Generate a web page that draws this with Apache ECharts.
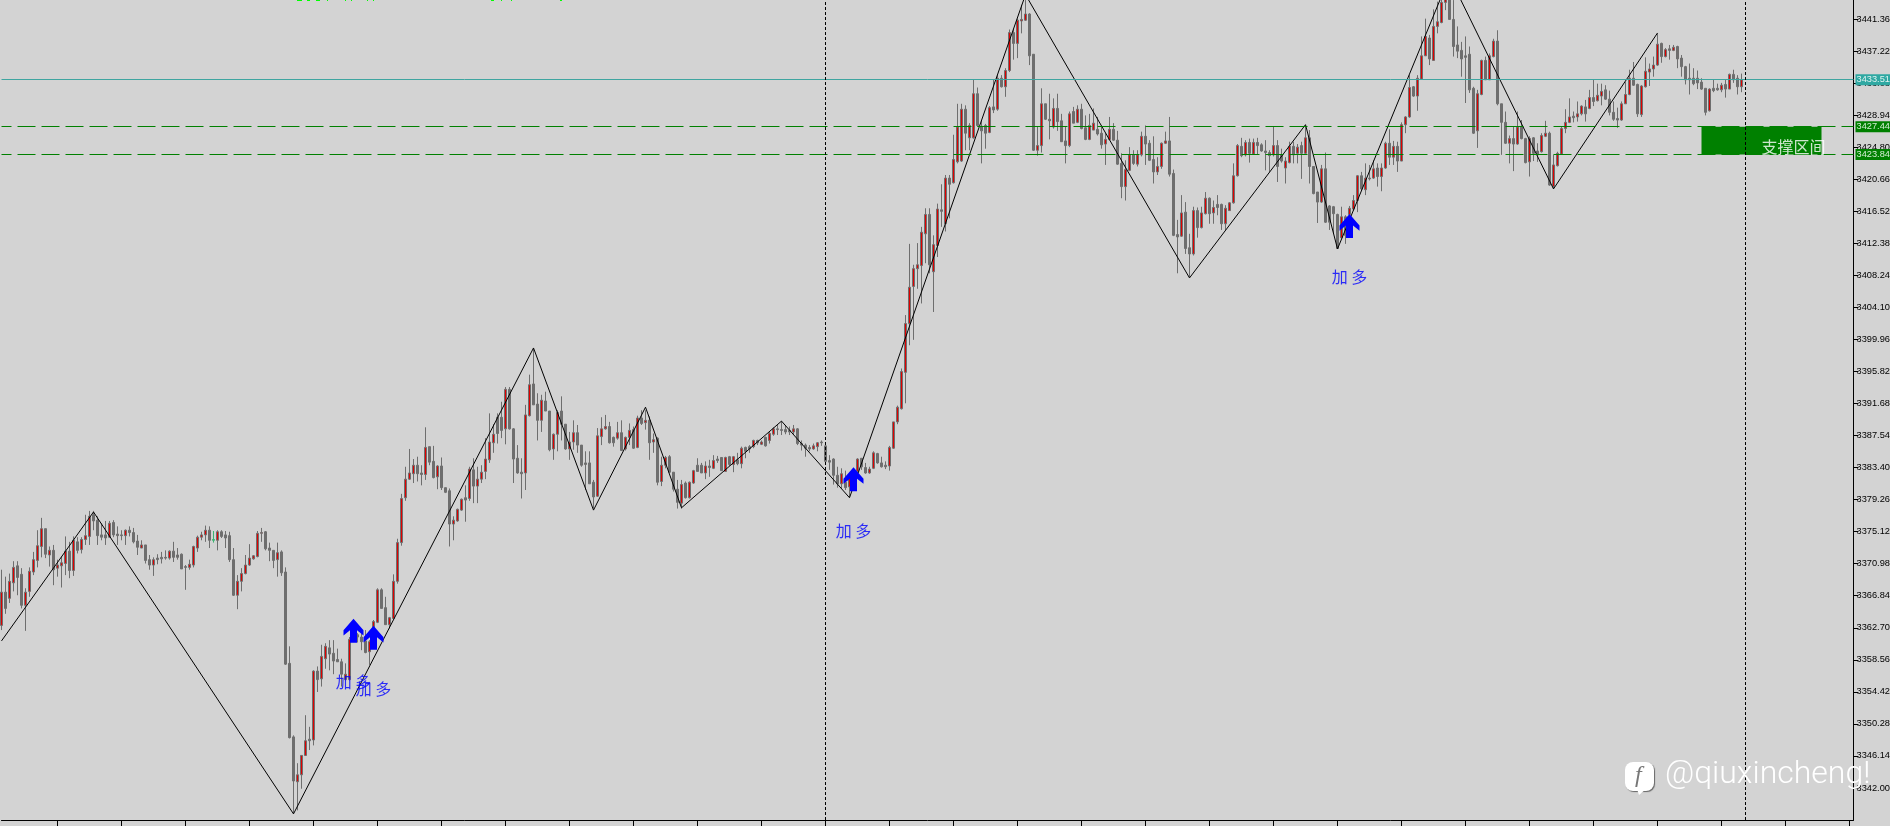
<!DOCTYPE html>
<html><head><meta charset="utf-8">
<style>html,body{margin:0;padding:0;background:#d3d3d3;overflow:hidden}#c{width:1890px;height:826px}</style>
<script src="https://cdn.jsdelivr.net/npm/echarts@6/dist/echarts.min.js"></script>
</head><body><div id="c"></div>
<script>
const opens=[3363.0,3367.3,3366.5,3368.5,3370.7,3369.6,3365.6,3367.4,3369.9,3371.4,3373.2,3375.5,3372.1,3372.7,3370.4,3370.7,3371.0,3372.6,3370.1,3373.8,3372.8,3374.1,3374.5,3377.3,3376.6,3374.7,3374.7,3374.4,3376.3,3374.8,3374.7,3374.6,3375.3,3375.0,3373.9,3373.0,3373.4,3371.5,3370.8,3371.7,3371.8,3371.8,3371.7,3372.6,3372.1,3372.2,3370.6,3370.5,3370.8,3373.0,3374.4,3374.7,3375.3,3374.1,3374.0,3375.1,3374.7,3374.6,3371.5,3366.9,3368.7,3369.7,3370.8,3371.6,3371.9,3374.9,3375.1,3373.0,3372.7,3371.5,3372.5,3369.9,3358.1,3348.6,3342.8,3343.7,3346.2,3348.3,3348.2,3357.1,3356.1,3358.7,3360.1,3359.4,3358.6,3358.3,3356.0,3356.0,3361.8,3361.8,3361.5,3361.0,3359.6,3360.9,3363.4,3367.6,3365.3,3363.1,3363.9,3368.7,
3373.7,3379.5,3381.9,3382.6,3383.7,3382.7,3382.5,3386.1,3384.2,3382.2,3383.6,3380.8,3380.4,3376.1,3376.5,3377.9,3379.5,3379.4,3383.1,3381.0,3381.9,3382.9,3384.4,3386.6,3389.9,3389.9,3388.4,3393.5,3388.4,3384.6,3382.8,3382.7,3390.1,3394.2,3391.6,3389.5,3392.0,3390.7,3385.8,3387.7,3390.7,3389.0,3385.8,3386.7,3387.9,3386.3,3384.0,3384.0,3381.5,3379.7,3387.4,3388.4,3388.7,3387.3,3387.2,3387.9,3385.8,3387.3,3388.3,3386.0,3389.8,3389.2,3389.5,3386.7,3387.2,3381.6,3383.7,3384.8,3382.8,3380.6,3378.8,3381.4,3379.5,3381.4,3383.7,3383.7,3382.7,3383.6,3383.3,3384.5,3384.7,3382.9,3384.8,3383.8,3384.4,3383.9,3386.0,3386.1,3386.1,3386.9,3386.4,3387.3,3386.9,3387.7,3388.4,3388.3,3388.3,3388.2,3388.0,3388.4,
3386.5,3386.3,3386.0,3385.8,3386.1,3386.7,3386.2,3384.3,3384.5,3382.4,3381.3,3381.5,3380.9,3382.2,3382.9,3384.6,3383.4,3382.7,3383.3,3385.2,3384.0,3383.7,3383.6,3385.9,3389.3,3391.0,3395.7,3402.0,3406.8,3409.1,3409.5,3413.6,3416.1,3408.7,3412.1,3416.7,3414.9,3420.8,3420.2,3422.9,3423.0,3429.7,3426.0,3426.0,3431.7,3427.5,3427.6,3426.7,3430.0,3429.7,3433.7,3432.6,3434.7,3439.6,3438.2,3441.1,3441.2,3442.0,3436.8,3424.4,3425.0,3430.4,3428.4,3427.4,3429.8,3428.2,3425.6,3425.0,3429.4,3428.0,3429.7,3427.3,3425.8,3427.0,3427.1,3426.6,3425.2,3425.8,3427.1,3425.7,3422.7,3419.7,3421.8,3423.8,3422.6,3423.8,3426.2,3425.3,3423.2,3421.6,3422.3,3425.3,3425.6,3421.4,3413.5,3413.3,3416.4,3411.8,3411.0,3416.6,
3414.4,3416.2,3418.2,3416.3,3417.4,3417.4,3414.9,3416.6,3417.6,3421.1,3424.9,3423.8,3425.4,3423.9,3425.4,3425.1,3424.3,3424.1,3423.8,3425.0,3423.8,3422.1,3422.8,3424.9,3424.0,3425.0,3424.0,3426.0,3422.3,3419.0,3417.7,3422.0,3417.2,3417.1,3416.1,3413.1,3415.8,3416.1,3416.8,3417.9,3421.1,3419.3,3420.8,3420.8,3422.1,3421.0,3422.1,3425.3,3423.5,3424.9,3423.0,3427.7,3428.7,3432.6,3431.4,3433.6,3436.6,3438.9,3436.0,3440.4,3440.9,3443.5,3444.0,3441.3,3438.0,3437.3,3436.6,3436.8,3432.4,3426.9,3431.6,3436.0,3433.5,3436.5,3438.5,3430.4,3428.0,3425.3,3425.9,3425.2,3427.4,3425.9,3422.9,3426.0,3424.3,3424.2,3426.2,3426.6,3419.7,3422.4,3423.9,3427.2,3428.0,3428.8,3428.7,3429.1,3430.0,3429.8,3431.2,3430.8,
3431.4,3432.2,3431.0,3429.3,3428.5,3428.3,3430.4,3431.6,3433.7,3432.9,3429.0,3432.6,3434.5,3434.9,3435.4,3438.2,3436.5,3437.5,3437.3,3437.8,3436.3,3435.2,3433.7,3433.7,3433.7,3433.2,3432.4,3429.5,3432.4,3432.4,3432.2,3432.9,3432.3,3434.2,3433.7,3432.6];
const highs=[3370.2,3369.3,3369.7,3371.3,3371.3,3370.4,3367.8,3370.5,3372.5,3375.3,3376.9,3375.5,3373.2,3373.4,3371.5,3371.9,3374.5,3373.8,3374.5,3374.4,3374.4,3377.3,3377.8,3377.8,3377.1,3376.2,3376.5,3376.5,3376.6,3375.8,3375.3,3375.4,3375.8,3375.6,3374.7,3374.0,3373.4,3372.1,3371.8,3372.2,3372.5,3372.7,3372.7,3373.8,3373.0,3372.3,3370.8,3371.5,3373.3,3374.6,3375.1,3375.9,3375.8,3375.2,3375.3,3375.3,3375.2,3375.1,3373.0,3369.5,3370.4,3372.1,3373.5,3372.1,3375.2,3375.6,3375.2,3373.7,3372.7,3373.7,3372.7,3370.5,3360.3,3348.8,3345.2,3346.2,3351.4,3349.9,3357.2,3357.7,3360.5,3360.7,3361.1,3361.1,3360.0,3358.7,3358.1,3361.5,3363.3,3362.0,3362.0,3362.4,3361.1,3363.7,3367.8,3367.8,3366.7,3364.1,3369.6,3374.2,
3380.0,3383.5,3385.8,3384.5,3384.8,3383.7,3388.6,3386.1,3386.2,3383.7,3384.7,3380.8,3380.7,3377.1,3378.1,3379.4,3381.1,3383.5,3384.6,3383.5,3383.7,3387.2,3390.4,3389.0,3390.4,3391.9,3393.8,3393.8,3388.5,3386.3,3384.6,3391.5,3395.4,3398.8,3393.0,3392.8,3393.2,3390.7,3387.8,3390.8,3392.6,3389.0,3388.0,3389.5,3388.9,3386.3,3385.5,3385.5,3381.8,3388.5,3389.9,3390.2,3389.3,3387.4,3389.3,3389.5,3387.4,3389.1,3388.7,3390.1,3390.8,3390.8,3390.0,3387.8,3387.3,3384.8,3384.9,3385.0,3382.8,3381.8,3381.8,3381.6,3381.6,3383.1,3384.6,3384.0,3384.2,3384.4,3385.0,3384.9,3384.7,3384.8,3384.9,3384.9,3385.3,3386.1,3386.1,3386.3,3387.0,3387.0,3386.9,3387.4,3388.0,3388.6,3388.9,3389.4,3388.9,3388.7,3388.9,3388.5,
3386.9,3386.5,3386.3,3386.5,3386.7,3386.9,3386.7,3385.0,3384.6,3383.5,3383.3,3383.0,3382.4,3383.3,3384.6,3384.6,3384.0,3383.5,3385.5,3385.3,3384.8,3384.2,3386.2,3389.3,3391.4,3396.2,3403.1,3412.3,3409.6,3412.4,3414.5,3416.9,3416.9,3413.4,3417.5,3420.0,3421.2,3421.2,3426.4,3430.4,3430.4,3430.2,3427.9,3433.5,3432.5,3428.3,3427.8,3430.1,3433.5,3434.1,3434.1,3435.0,3440.0,3440.1,3441.4,3443.2,3443.8,3442.1,3436.8,3427.4,3432.4,3430.4,3431.7,3431.1,3431.7,3429.1,3427.4,3429.4,3430.0,3430.2,3430.4,3428.9,3429.1,3429.8,3428.7,3427.6,3426.6,3428.7,3427.9,3426.9,3424.0,3423.1,3424.8,3424.4,3424.4,3426.8,3427.6,3425.7,3426.2,3423.5,3425.4,3426.8,3428.7,3421.9,3415.4,3418.6,3417.7,3413.6,3417.1,3417.0,
3417.1,3419.0,3418.3,3417.9,3418.6,3417.5,3417.3,3417.7,3422.7,3425.2,3426.0,3425.7,3425.9,3425.9,3426.0,3425.3,3425.7,3424.4,3427.4,3425.7,3424.6,3423.5,3425.5,3425.5,3425.2,3425.5,3427.5,3427.0,3422.3,3419.0,3422.5,3424.1,3417.3,3417.2,3416.2,3417.1,3416.0,3417.2,3418.6,3421.2,3421.6,3422.7,3422.5,3423.1,3422.7,3422.7,3425.5,3427.1,3425.6,3425.5,3428.0,3428.8,3434.1,3432.7,3434.1,3439.1,3441.4,3439.3,3442.6,3443.6,3444.5,3444.8,3444.8,3443.8,3440.4,3438.4,3439.1,3437.8,3432.6,3432.2,3436.1,3436.5,3436.9,3438.8,3439.9,3430.4,3429.4,3426.3,3427.4,3429.4,3428.3,3426.0,3426.2,3426.1,3425.3,3426.6,3428.2,3426.8,3423.8,3424.2,3427.4,3429.7,3431.1,3429.4,3430.7,3430.2,3430.9,3432.2,3433.5,3433.0,
3433.0,3432.8,3432.1,3430.7,3429.9,3430.7,3433.2,3434.8,3435.8,3433.0,3432.8,3436.4,3435.6,3436.5,3439.5,3438.3,3437.6,3438.0,3438.0,3437.9,3436.7,3435.3,3435.6,3435.0,3434.7,3433.7,3432.4,3432.4,3433.5,3433.0,3433.1,3433.5,3434.3,3434.8,3434.1,3434.3];
const lows=[3362.4,3364.5,3365.9,3367.4,3366.9,3365.2,3362.3,3366.7,3369.5,3370.5,3371.8,3371.7,3370.6,3368.2,3369.3,3367.9,3369.5,3369.1,3369.4,3372.3,3372.3,3373.4,3373.4,3375.3,3373.4,3374.0,3373.4,3374.3,3374.4,3373.4,3374.0,3373.4,3374.5,3373.6,3372.1,3373.0,3371.0,3370.2,3369.4,3370.9,3371.0,3371.5,3371.5,3371.2,3371.5,3370.3,3367.6,3370.2,3370.5,3372.5,3374.0,3373.8,3373.0,3373.7,3372.7,3374.3,3373.0,3371.2,3366.8,3365.1,3367.4,3369.6,3370.7,3371.5,3371.8,3373.8,3372.7,3371.3,3370.4,3369.3,3369.4,3357.9,3348.4,3338.7,3339.1,3341.9,3346.2,3346.9,3347.5,3354.4,3355.1,3357.4,3357.2,3356.7,3358.3,3355.1,3355.9,3355.9,3361.3,3360.8,3359.8,3359.4,3357.9,3360.7,3363.3,3365.2,3363.1,3362.6,3363.9,3368.4,
3373.3,3379.1,3381.8,3381.4,3381.6,3381.1,3381.8,3383.7,3382.0,3380.6,3380.5,3380.1,3373.2,3374.0,3376.4,3377.8,3376.4,3379.1,3378.8,3378.8,3381.4,3381.9,3384.0,3385.3,3386.5,3387.2,3386.4,3388.3,3381.4,3382.6,3379.4,3380.5,3390.0,3391.5,3386.9,3388.0,3390.7,3385.5,3384.4,3385.5,3386.9,3385.7,3384.4,3385.7,3385.3,3383.5,3380.5,3381.3,3378.1,3379.6,3386.3,3388.3,3386.5,3386.1,3387.0,3385.6,3385.6,3386.3,3385.8,3385.9,3388.9,3388.3,3384.4,3385.3,3381.1,3381.0,3383.3,3382.8,3380.3,3378.1,3378.1,3379.4,3379.4,3381.3,3382.9,3382.7,3381.9,3382.2,3383.2,3384.0,3383.0,3382.9,3383.6,3382.8,3383.7,3383.3,3384.6,3385.3,3385.9,3386.3,3386.3,3386.1,3386.5,3387.5,3387.6,3387.6,3387.7,3387.6,3387.6,3386.3,
3385.6,3384.8,3385.5,3385.7,3385.5,3386.2,3384.0,3383.1,3381.2,3380.8,3380.7,3380.5,3379.6,3380.5,3382.7,3383.1,3382.6,3382.6,3383.2,3383.9,3383.4,3383.2,3383.0,3385.8,3389.0,3390.9,3391.7,3399.2,3399.9,3406.5,3404.6,3409.8,3408.5,3403.5,3410.6,3414.5,3413.9,3415.6,3420.1,3422.7,3422.9,3424.4,3424.4,3425.9,3427.4,3422.7,3424.6,3426.6,3429.2,3429.5,3432.5,3431.3,3434.5,3436.1,3436.3,3439.5,3441.1,3435.4,3424.3,3423.7,3424.1,3428.3,3425.8,3427.2,3426.9,3425.5,3422.7,3424.8,3427.9,3427.9,3427.1,3425.7,3425.7,3427.0,3426.3,3424.6,3422.5,3425.7,3425.6,3422.5,3418.2,3417.9,3421.7,3422.5,3422.3,3423.6,3422.5,3423.0,3420.1,3421.2,3422.0,3425.2,3421.0,3413.3,3408.5,3413.2,3411.0,3408.0,3410.8,3413.1,
3414.3,3416.1,3414.9,3414.9,3416.0,3414.1,3414.1,3416.6,3417.5,3421.0,3423.5,3423.6,3422.8,3423.8,3423.8,3424.2,3421.8,3421.6,3423.6,3420.3,3422.8,3420.1,3422.7,3422.7,3422.7,3420.7,3423.9,3420.1,3418.7,3415.0,3417.6,3415.0,3414.1,3413.6,3411.7,3413.0,3412.3,3414.9,3416.6,3416.4,3419.2,3418.6,3420.5,3420.7,3419.7,3419.1,3422.0,3422.5,3422.5,3421.6,3423.0,3426.6,3428.6,3431.3,3429.5,3433.5,3436.6,3435.4,3436.0,3439.5,3440.8,3442.5,3441.3,3436.5,3436.3,3433.9,3430.5,3431.8,3426.5,3424.7,3431.5,3433.5,3433.5,3436.4,3430.2,3423.8,3425.2,3422.7,3421.7,3425.1,3425.8,3422.7,3421.0,3423.0,3422.9,3424.1,3426.1,3419.8,3419.4,3422.3,3423.8,3426.6,3427.9,3428.0,3428.1,3428.9,3428.1,3429.7,3430.1,3430.7,
3430.2,3430.9,3428.9,3428.2,3427.3,3428.2,3430.4,3431.5,3432.7,3428.7,3428.7,3432.5,3432.7,3433.9,3435.3,3435.7,3436.4,3436.1,3437.2,3435.0,3433.9,3432.9,3431.6,3432.8,3432.3,3432.2,3428.9,3429.4,3431.9,3432.1,3431.9,3431.2,3432.3,3433.1,3431.6,3431.9];
const closes=[3367.3,3365.2,3368.7,3370.5,3369.2,3365.6,3367.3,3370.0,3371.5,3373.3,3375.5,3372.2,3372.7,3370.2,3370.8,3371.1,3372.6,3370.1,3374.0,3372.7,3374.1,3374.6,3377.1,3376.5,3374.6,3374.4,3374.3,3376.2,3374.7,3374.6,3374.6,3375.3,3375.0,3373.8,3373.1,3373.4,3371.4,3370.8,3371.5,3371.5,3371.6,3371.7,3372.6,3371.8,3371.8,3370.3,3370.5,3370.9,3373.2,3374.4,3374.7,3375.3,3374.0,3374.0,3375.1,3374.5,3374.3,3371.5,3366.9,3368.7,3369.7,3370.8,3371.7,3372.0,3374.9,3375.0,3372.9,3372.7,3371.4,3372.4,3369.8,3358.0,3348.5,3342.9,3343.7,3346.2,3348.1,3348.1,3357.1,3356.0,3359.0,3360.3,3359.3,3358.4,3358.3,3356.7,3356.7,3361.2,3361.3,3361.5,3360.9,3359.5,3360.9,3363.5,3367.6,3365.2,3363.1,3364.0,3368.7,3373.7,
3379.4,3381.9,3382.7,3383.7,3382.6,3382.5,3386.0,3384.1,3382.1,3383.6,3380.8,3380.2,3376.1,3376.6,3378.0,3379.3,3379.2,3383.2,3381.0,3381.9,3382.8,3384.5,3386.7,3387.7,3387.8,3388.2,3393.5,3388.4,3384.5,3382.7,3382.6,3390.2,3394.1,3391.5,3389.5,3392.1,3390.7,3385.7,3387.7,3390.5,3389.0,3385.8,3386.7,3387.9,3386.3,3383.7,3383.8,3381.3,3379.6,3387.5,3388.4,3388.7,3386.6,3386.6,3387.9,3385.6,3387.3,3388.2,3385.9,3389.8,3389.1,3389.5,3386.6,3387.0,3381.5,3383.7,3384.7,3382.8,3380.6,3378.9,3381.2,3379.5,3381.5,3383.0,3382.9,3382.7,3383.6,3383.4,3384.3,3384.3,3383.0,3384.7,3383.8,3384.8,3383.9,3385.9,3385.5,3385.8,3386.9,3386.6,3386.7,3386.2,3387.8,3388.4,3388.3,3388.2,3388.0,3388.0,3388.4,3386.5,
3386.3,3385.9,3385.8,3386.2,3386.6,3386.6,3384.2,3384.1,3382.4,3381.3,3382.6,3380.8,3382.2,3383.1,3384.5,3383.5,3382.7,3383.2,3385.3,3384.0,3383.5,3383.5,3386.0,3389.3,3391.2,3395.8,3402.0,3406.7,3409.1,3409.6,3413.8,3416.1,3409.6,3412.2,3416.8,3416.5,3420.8,3420.0,3423.2,3427.4,3429.7,3426.6,3427.6,3431.7,3427.6,3426.9,3426.6,3429.9,3429.6,3433.7,3432.6,3434.7,3439.6,3438.2,3441.2,3441.3,3442.0,3436.6,3424.4,3425.0,3430.4,3428.4,3428.2,3429.8,3428.1,3425.5,3425.0,3429.1,3427.9,3429.7,3427.2,3425.8,3427.6,3427.9,3426.5,3425.1,3425.8,3427.1,3425.7,3422.6,3419.7,3421.9,3423.8,3422.7,3423.8,3426.2,3425.2,3423.1,3421.6,3422.3,3425.3,3425.6,3421.3,3413.4,3413.2,3416.3,3411.7,3411.0,3416.6,3414.4,
3416.3,3418.2,3416.2,3417.0,3417.0,3414.9,3416.9,3417.6,3421.1,3425.0,3423.7,3425.4,3424.0,3425.4,3425.0,3424.3,3424.1,3423.7,3425.0,3422.3,3423.0,3423.0,3424.9,3423.8,3424.8,3424.0,3426.0,3422.3,3418.8,3417.7,3422.0,3415.1,3415.1,3416.2,3411.7,3415.8,3413.4,3416.9,3417.9,3421.1,3419.4,3420.8,3420.7,3422.0,3421.0,3422.1,3425.3,3423.5,3424.9,3423.0,3427.7,3428.7,3432.5,3431.4,3433.7,3436.6,3439.1,3436.2,3440.4,3441.0,3443.5,3444.0,3441.3,3437.8,3437.2,3436.2,3436.4,3432.2,3426.6,3431.7,3436.0,3433.5,3436.6,3438.5,3430.4,3428.0,3425.3,3425.9,3425.2,3427.4,3425.9,3422.8,3425.9,3424.0,3423.8,3426.3,3426.6,3419.9,3422.5,3424.0,3427.2,3428.0,3428.7,3428.6,3429.1,3430.1,3429.1,3431.2,3430.7,3431.5,
3432.0,3431.0,3429.3,3428.4,3428.3,3430.4,3431.6,3433.7,3432.8,3429.1,3432.7,3434.6,3434.9,3435.4,3438.1,3436.5,3437.4,3437.3,3437.7,3436.2,3435.2,3433.5,3433.5,3433.0,3433.1,3432.3,3429.3,3432.3,3432.1,3432.2,3432.8,3432.3,3434.2,3433.5,3432.6,3433.5];
const greenCandle=53;
const pivotIndex=[0,23,73,133,148,161,170,195,212,256,297,326,334,362,388,414];
const pivotPrice=[3361.0,3377.66,3338.65,3398.85,3377.9,3391.2,3378.2,3389.4,3379.5,3444.5,3407.9,3427.7,3411.65,3446.8,3419.4,3439.55];
const arrowIndex=[88,93,213,337];
const arrowPrice=[3362.3,3361.4,3381.9,3414.6];
const noteText=['加 多','加 多','加 多','加 多'];
const notePrice=[3355.7,3354.8,3375.2,3408.0];
const yTicks=[3342.00,3346.14,3350.28,3354.42,3358.56,3362.70,3366.84,3370.98,3375.12,3379.26,3383.40,3387.54,3391.68,3395.82,3399.96,3404.10,3408.24,3412.38,3416.52,3420.66,3424.80,3428.94,3433.08,3437.22,3441.36];
const lastPrice=3433.51;
const zoneTop=3427.44, zoneBottom=3423.84;
const zoneFrom=425, zoneTo=455, zoneTextIndex=448, zoneTextPrice=3424.8;
const sessionLines=[206,436];
const categories=Array.from({length:464},(_,i)=>String(i));
const GRAY='#6e6e6e',RED='#e00000',GREEN='#008000',TEAL='#3fa5a0';

const candleData=opens.map((o,i)=>{
  const v=[o,closes[i],lows[i],highs[i]];
  return i===greenCandle?{value:v,itemStyle:{color:'#3cb371',color0:'#3cb371',borderColor:'#3cb371',borderColor0:'#3cb371'}}:v;
});
function tag(bg,fg){return {show:true,position:'end',distance:2,formatter:p=>p.value.toFixed(2),backgroundColor:bg,color:fg,fontFamily:'Liberation Sans',fontSize:9.25,padding:[0,1,0,1],lineHeight:11,align:'left'};}
const arrowPath='path://M10 0 L20 11 L20 16 L13.5 11 L13.5 23 L6.5 23 L6.5 11 L0 16 L0 11 Z';
const greenTicks=[[297,5],[307,3],[316,4],[327,1],[345,1],[351,1],[367,1],[373,1],[491,3],[501,1],[511,1],[560,2]];

const chart=echarts.init(document.getElementById('c'),null,{renderer:'canvas'});
chart.setOption({
  animation:false,backgroundColor:'#d3d3d3',
  grid:{left:1.5,width:1852,top:0,height:820,containLabel:false,outerBoundsMode:'none'},
  xAxis:{type:'category',data:categories,boundaryGap:false,
    axisLine:{show:true,onZero:false,lineStyle:{color:'#000',width:1}},
    axisTick:{show:true,length:6,interval:i=>i%16===14,lineStyle:{color:'#000'}},
    axisLabel:{show:false},splitLine:{show:false}},
  yAxis:{type:'value',position:'right',min:3337.86,max:3443.81,
    axisLine:{show:true,onZero:false,lineStyle:{color:'#000',width:1}},
    axisTick:{show:true,length:5,customValues:yTicks,lineStyle:{color:'#000'}},
    axisLabel:{show:true,margin:3,customValues:yTicks,formatter:v=>v.toFixed(2),color:'#000',fontFamily:'Liberation Sans',fontSize:9.25,hideOverlap:false},
    splitLine:{show:false}},
  series:[
    {name:'zone',type:'line',data:[],z:1,silent:true,
      markArea:{silent:true,z:1,itemStyle:{color:GREEN,opacity:1,borderRadius:0},data:[[{coord:[zoneFrom,zoneTop]},{coord:[zoneTo,zoneBottom]}]]}},
    {name:'price',type:'candlestick',data:candleData,barWidth:2,z:2,silent:true,
      itemStyle:{color:RED,color0:GRAY,borderColor:GRAY,borderColor0:GRAY,borderWidth:1}},
    {name:'zigzag',type:'line',data:pivotIndex.map((x,i)=>[x,pivotPrice[i]]),symbol:'none',z:3,silent:true,
      lineStyle:{color:'#000',width:1}},
    {name:'levels',type:'line',data:[],z:4,silent:true,
      markLine:{silent:true,symbol:'none',animation:false,precision:2,z:4,
        data:[
          {yAxis:lastPrice,lineStyle:{color:TEAL,width:1,type:'solid'},label:tag('#2fa8a2','#dff3f0')},
          {yAxis:zoneTop,lineStyle:{color:GREEN,width:1,type:[18,6],dashOffset:8},label:tag(GREEN,'#d3ecd3')},
          {yAxis:zoneBottom,lineStyle:{color:GREEN,width:1,type:[18,6],dashOffset:8},label:tag(GREEN,'#d3ecd3')},
          ...sessionLines.map(x=>({xAxis:x,lineStyle:{color:'#000',width:1,type:[3,2]},label:{show:false}}))
        ]}},
    {name:'arrows',type:'scatter',data:arrowIndex.map((x,i)=>[x,arrowPrice[i]]),symbol:arrowPath,symbolSize:[20,24],symbolKeepAspect:false,z:5,silent:true,
      itemStyle:{color:'#0000ff',opacity:1}},
    {name:'notes',type:'scatter',data:arrowIndex.map((x,i)=>({value:[x,notePrice[i]],name:noteText[i]})),symbol:'circle',symbolSize:0,z:6,silent:true,
      label:{show:true,position:'inside',formatter:p=>p.name,color:'#0000ff',fontFamily:'Noto Sans CJK SC',fontSize:16,fontWeight:'normal'}},
    {name:'zoneText',type:'scatter',data:[{value:[zoneTextIndex,zoneTextPrice],name:'支撑区间'}],symbol:'circle',symbolSize:0,z:6,silent:true,
      label:{show:true,position:'inside',formatter:p=>p.name,color:'#fff',fontFamily:'Noto Sans CJK SC',fontSize:16,fontWeight:'normal'}}
  ],
  graphic:[
    ...greenTicks.map(t=>({type:'rect',z:100,shape:{x:t[0],y:0,width:t[1],height:1},style:{fill:'#00ff00'},silent:true})),
    {type:'rect',z:100,silent:true,shape:{x:1625,y:762,width:29,height:29,r:8},style:{fill:'#fff',shadowColor:'#666',shadowOffsetX:1,shadowOffsetY:1,shadowBlur:1}},
    {type:'polygon',z:100,silent:true,shape:{points:[[1637,789],[1646,789],[1639,795]]},style:{fill:'#fff'}},
    {type:'text',z:101,silent:true,x:1635,y:764,style:{text:'f',fill:'#777',font:'italic 24px "Liberation Serif"'}},
    {type:'text',z:100,silent:true,x:1665,y:759,style:{text:'@qiuxincheng!',fill:'#fff',font:'300 32px Roboto',shadowColor:'#555',shadowOffsetX:1,shadowOffsetY:1,shadowBlur:0}}
  ]
});
</script></body></html>
